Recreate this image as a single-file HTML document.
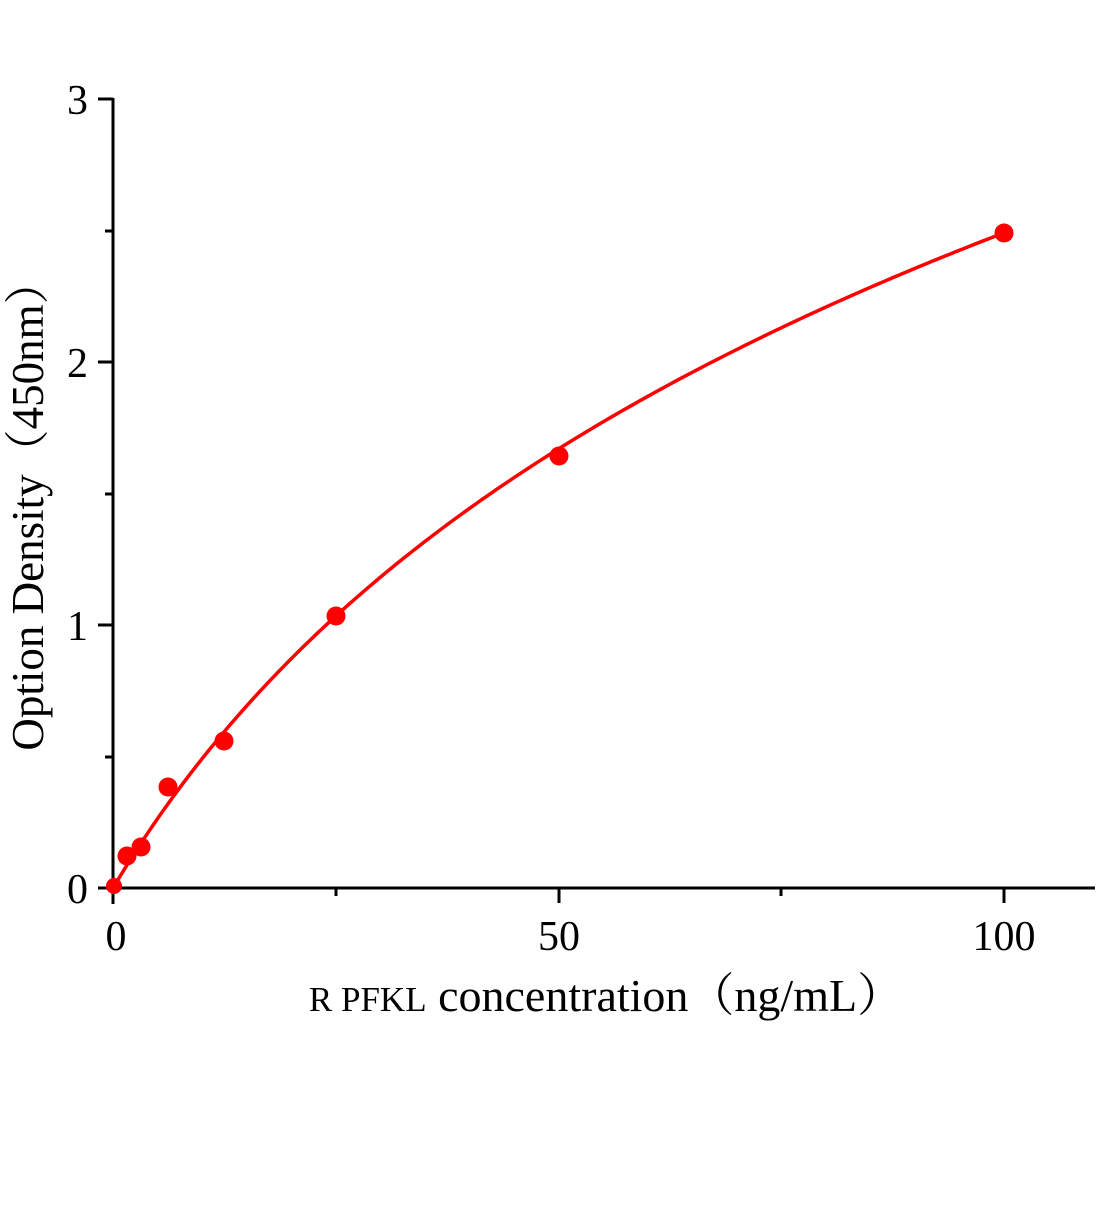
<!DOCTYPE html>
<html><head><meta charset="utf-8"><style>
body{margin:0;background:#fff}
svg text{font-family:"Liberation Serif","Noto Serif CJK SC",serif;fill:#000}
</style></head><body>
<svg id="s" width="1104" height="1200" xmlns="http://www.w3.org/2000/svg">
<g stroke="#000" stroke-width="3" fill="none">
<line x1="113" y1="98" x2="113" y2="904"/>
<line x1="98" y1="888" x2="1095" y2="888"/>
<line x1="98" y1="99" x2="113" y2="99"/>
<line x1="98" y1="362" x2="113" y2="362"/>
<line x1="98" y1="625" x2="113" y2="625"/>
<line x1="105" y1="231" x2="113" y2="231"/>
<line x1="105" y1="494" x2="113" y2="494"/>
<line x1="105" y1="757" x2="113" y2="757"/>
<line x1="559" y1="888" x2="559" y2="903"/>
<line x1="1004" y1="888" x2="1004" y2="903"/>
<line x1="336" y1="888" x2="336" y2="896"/>
<line x1="781" y1="888" x2="781" y2="896"/>
</g>
<g font-size="42" text-anchor="end">
<text x="88" y="114">3</text>
<text x="88" y="377">2</text>
<text x="88" y="640">1</text>
<text x="88" y="903">0</text>
</g>
<g font-size="42" text-anchor="middle">
<text x="116" y="950">0</text>
<text x="559" y="950">50</text>
<text x="1004" y="950">100</text>
</g>
<text x="606" y="1011" font-size="46" text-anchor="middle"><tspan font-size="35">R PFKL</tspan> concentration（ng/mL）</text>
<text transform="translate(43,505) rotate(-90)" font-size="45" text-anchor="middle">Option Density（450nm）</text>
<path id="c" fill="none" stroke="#f00" stroke-width="3.5"/>
<g fill="#f00">
<circle cx="114" cy="886" r="8"/>
<circle cx="127" cy="856" r="9.5"/>
<circle cx="141" cy="847" r="9.5"/>
<circle cx="168" cy="787" r="9.5"/>
<circle cx="224" cy="741" r="9.5"/>
<circle cx="336" cy="616" r="9.5"/>
<circle cx="559" cy="456" r="9.5"/>
<circle cx="1004" cy="233" r="9.5"/>
</g>
</svg>
<script>
var d="";
for(var i=0;i<=200;i++){var x=i/2;var y=1.686*Math.log(1+x/29.5);
d+=(i?" L":"M")+(113+x*8.91).toFixed(2)+","+(888-y*262.7).toFixed(2);}
document.getElementById("c").setAttribute("d",d);
</script>
</body></html>
